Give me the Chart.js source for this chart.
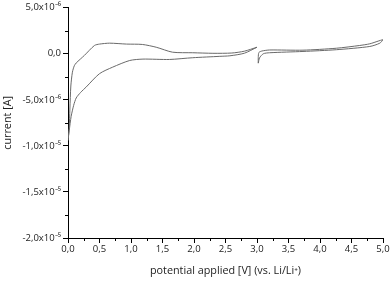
<!DOCTYPE html>
<html>
<head>
<meta charset="utf-8">
<script src="https://cdn.jsdelivr.net/npm/chart.js@4/dist/chart.umd.min.js"></script>
<style>
  html, body { margin: 0; padding: 0; background: #fff; }
  #wrap { width: 392px; height: 281px; position: relative; }
</style>
</head>
<body>
<div id="wrap"><canvas id="c"></canvas></div>
<script>
// Potential [V] and current [µA] (segment 0–3 V)
const seg1Potential = [3.00, 2.80, 2.57, 2.41, 1.98, 1.61, 1.19, 0.98, 0.71, 0.50, 0.29, 0.20, 0.13, 0.09, 0.05, 0.02, 0.00, 0.02, 0.03, 0.045, 0.07, 0.10, 0.13, 0.26, 0.42, 0.50, 0.66, 0.93, 1.18, 1.40, 1.66, 1.98, 2.30, 2.60, 2.80, 3.00];
const seg1Current   = [0.71, 0.06, -0.22, -0.28, -0.43, -0.62, -0.58, -0.73, -1.45, -2.16, -3.6, -4.2, -4.8, -5.6, -6.8, -8.3, -9.4, -8.0, -6.0, -3.5, -2.0, -1.3, -1.0, -0.18, 0.90, 1.05, 1.15, 1.05, 1.01, 0.71, 0.17, 0.11, 0.05, 0.08, 0.28, 0.71];
// Segment 3–5 V
const seg2Potential = [3.02, 3.02, 3.03, 3.08, 3.20, 3.73, 4.26, 4.63, 4.79, 5.00, 4.95, 4.79, 4.26, 3.73, 3.20, 3.10, 3.04, 3.02];
const seg2Current   = [-1.02, -0.40, 0.14, 0.30, 0.41, 0.39, 0.60, 0.90, 1.08, 1.52, 1.15, 0.79, 0.44, 0.25, 0.11, 0.00, -0.45, -1.02];
// Axis ticks
const xTicks = [0, 0.5, 1, 1.5, 2, 2.5, 3, 3.5, 4, 4.5, 5];
const yTicksMicroA = [-20, -15, -10, -5, 0, 5];

const toPts = (xs, ys) => xs.map((x, i) => ({ x: x, y: ys[i] }));
const SUP = { '-': '\u207B', '0': '\u2070', '1': '\u00B9', '2': '\u00B2', '3': '\u00B3', '4': '\u2074', '5': '\u2075', '6': '\u2076', '7': '\u2077', '8': '\u2078', '9': '\u2079' };
function sciLabel(microA) {
  const v = microA * 1e-6;
  if (Math.abs(microA) < 1e-9) return '0,0';
  const e = Math.floor(Math.log10(Math.abs(v)) + 1e-9);
  const m = v / Math.pow(10, e);
  const ms = m.toFixed(1).replace('.', ',');
  const es = String(e).split('').map(ch => SUP[ch]).join('');
  return ms + 'x10' + es;
}

const minorTicks = {
  id: 'minorTicks',
  afterDraw(chart) {
    const ctx = chart.ctx;
    const xs = chart.scales.x, ys = chart.scales.y;
    ctx.save();
    ctx.strokeStyle = '#000';
    ctx.lineWidth = 1;
    ctx.beginPath();
    for (let i = 0; i < xTicks.length - 1; i++) {
      const v = (xTicks[i] + xTicks[i + 1]) / 2;
      const px = Math.round(xs.getPixelForValue(v)) + 0.5;
      ctx.moveTo(px, chart.chartArea.bottom);
      ctx.lineTo(px, chart.chartArea.bottom + 3);
    }
    for (let i = 0; i < yTicksMicroA.length - 1; i++) {
      const v = (yTicksMicroA[i] + yTicksMicroA[i + 1]) / 2;
      const py = Math.round(ys.getPixelForValue(v)) + 0.5;
      ctx.moveTo(chart.chartArea.left, py);
      ctx.lineTo(chart.chartArea.left - 3, py);
    }
    ctx.stroke();
    ctx.restore();
  }
};

const font = { family: '"Open Sans", sans-serif', size: 9.5 };
const titleFont = { family: '"Open Sans", sans-serif', size: 10.8 };
const lineStyle = { borderColor: '#6a6a6a', borderWidth: 1, pointRadius: 0, showLine: true, fill: false, tension: 0.25 };

new Chart(document.getElementById('c'), {
  type: 'scatter',
  data: {
    datasets: [
      Object.assign({ label: '0-3 V', data: toPts(seg1Potential, seg1Current) }, lineStyle),
      Object.assign({ label: '3-5 V', data: toPts(seg2Potential, seg2Current) }, lineStyle)
    ]
  },
  options: {
    responsive: true,
    maintainAspectRatio: false,
    animation: false,
    devicePixelRatio: 1,
    layout: { padding: { top: 7, right: 9, left: 0, bottom: 0 } },
    plugins: { legend: { display: false }, tooltip: { enabled: false } },
    scales: {
      x: {
        type: 'linear', min: 0, max: 5,
        afterBuildTicks(s) { s.ticks = xTicks.map(v => ({ value: v })); },
        afterFit(s) { s.height = 43; },
        grid: { display: true, drawOnChartArea: false, drawTicks: true, tickLength: 5, color: '#000' },
        border: { display: true, color: '#000', width: 1 },
        ticks: { padding: 1, color: '#222', font: font, maxRotation: 0, callback: v => Number(v).toFixed(1).replace('.', ',') },
        title: { display: true, text: 'potential applied [V] (vs. Li/Li\u207A)', color: '#222', font: titleFont, padding: { top: 0, bottom: 4 } }
      },
      y: {
        type: 'linear', min: -20, max: 5,
        afterBuildTicks(s) { s.ticks = yTicksMicroA.map(v => ({ value: v })); },
        afterFit(s) { s.width = 68; },
        grid: { display: true, drawOnChartArea: false, drawTicks: true, tickLength: 5, color: '#000' },
        border: { display: true, color: '#000', width: 1 },
        ticks: { padding: 2, color: '#222', font: font, callback: v => sciLabel(v) },
        title: { display: true, text: 'current [A]', color: '#222', font: titleFont, padding: { top: 1.5, bottom: 4 } }
      }
    }
  },
  plugins: [minorTicks]
});
</script>
</body>
</html>
